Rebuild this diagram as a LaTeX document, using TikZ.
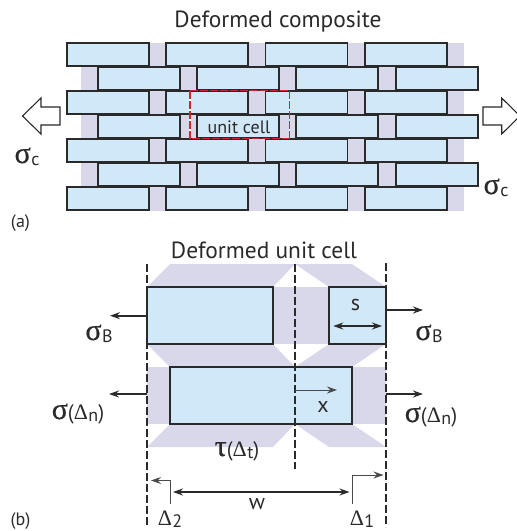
\documentclass[tikz,border=0pt]{standalone}
\usepackage{fontspec}
\setmainfont{PT Sans}
\newfontfamily\symf{Liberation Serif}
\newfontfamily\sigf[FakeBold=0.6]{Liberation Serif}
\usetikzlibrary{arrows.meta}
\definecolor{brickfill}{HTML}{D0E8F8}
\definecolor{lilac}{HTML}{D8D8EA}
\definecolor{ink}{HTML}{2B2A2B}
\definecolor{cellred}{HTML}{D2232F}
\newcommand{\sg}{{\sigf\fontsize{30}{30}\selectfont σ}}
\newcommand{\ta}{{\sigf\fontsize{30}{30}\selectfont τ}}
\newcommand{\Dl}{{\symf\fontsize{22}{22}\selectfont Δ}}
\newcommand{\subt}[1]{\kern.5pt\raisebox{-2pt}{\fontsize{18}{18}\selectfont #1}}
\newcommand{\pr}[1]{{\fontsize{21}{21}\selectfont #1}}
\tikzset{
  brick/.style={draw=ink,fill=brickfill,line width=1.7pt,inner sep=0pt,outer sep=0pt},
  label/.style={text=ink,inner sep=0pt,font=\fontsize{18}{18}\selectfont},
  letter/.style={text=ink,inner sep=0pt,font=\fontsize{22}{22}\selectfont},
  tag/.style={text=ink,inner sep=0pt,font=\fontsize{18}{18}\selectfont},
  title/.style={text=ink,inner sep=0pt,font=\fontsize{23.4}{24}\selectfont},
  sym/.style={text=ink,inner sep=0pt},
  dim/.style={draw=ink,line width=1.6pt,-{Stealth[length=10pt,width=7pt]}},
  dimboth/.style={draw=ink,line width=1.6pt,{Stealth[length=10pt,width=7pt]}-{Stealth[length=10pt,width=7pt]}},
  dimthin/.style={draw=ink!85,line width=1pt,-{Stealth[length=10pt,width=7pt]}},
  cut/.style={draw=ink,line width=1.5pt,dash pattern=on 8pt off 3pt},
  hollow/.style={draw=ink,fill=white,line width=1.1pt},
  celledge/.style={draw=cellred,line width=1.8pt,dash pattern=on 8pt off 2pt},
}
\begin{document}
\begin{tikzpicture}[x=1pt,y=-1pt]
\useasboundingbox (0,0) rectangle (517,531);
% (a) composite
\fill[lilac] (81,43) rectangle (464,211);
\foreach \n/\yc in {1/54.5,3/102.2,5/150.2,7/198.2}{
  \foreach \m/\xc in {a/108,b/207.3,c/306.4,d/406}{
    \node[brick,minimum width=82pt,minimum height=23pt] (r\n\m) at (\xc,\yc) {};
  }
}
\foreach \n/\yc in {2/78.5,4/126.5,6/174.5}{
  \foreach \m/\xc in {a/139,b/238,c/337,d/436.7}{
    \node[brick,minimum width=82pt,minimum height=23pt] (r\n\m) at (\xc,\yc) {};
  }
}
\node[minimum width=99.5pt,minimum height=48pt,inner sep=0pt,outer sep=0pt] (cell) at (239.8,114.5) {};
\draw[white,line width=1.7pt] (cell.north west) -- (cell.south west);
\draw[white,line width=1.7pt] (cell.north east) -- (cell.south east);
\draw[celledge] (cell.north west) -- (cell.north east);
\draw[celledge] (cell.north east) -- (cell.south east);
\draw[celledge] (cell.south east) -- (cell.south west);
\draw[celledge] (cell.south west) -- (cell.north west);
\node[label] (celltxt) at (239,127) {unit cell};
\node[title] (t1) at (278,22) {Deformed composite};
\draw[hollow] (60,107) -- (41,107) -- (41,98) -- (22.5,116) -- (41,134) -- (41,125) -- (60,125) -- cycle;
\draw[hollow] (483,107) -- (501.7,107) -- (501.7,98) -- (520,116) -- (501.7,134) -- (501.7,125) -- (483,125) -- cycle;
\node[sym,anchor=base] (sc1) at (27,163) {\sg\subt{c}};
\node[sym,anchor=base] (sc2) at (496,194) {\sg\subt{c}};
\node[tag] (la) at (20.5,223) {(a)};
% (b) unit cell
\node[title] (t2) at (264,250) {Deformed unit cell};
\fill[lilac] (147,287) -- (170,264) -- (295,264) -- (273,287) -- cycle;
\fill[lilac] (295,264) -- (352,264) -- (386,287) -- (329,287) -- cycle;
\fill[lilac] (273,287) rectangle (329,344);
\fill[lilac] (147,344) -- (273,344) -- (295,367) -- (170,367) -- cycle;
\fill[lilac] (295,367) -- (329,344) -- (386,344) -- (352,367) -- cycle;
\fill[lilac] (147,367) rectangle (170,424);
\fill[lilac] (352,367) rectangle (386,424);
\fill[lilac] (170,424) -- (295,424) -- (273,447) -- (147,447) -- cycle;
\fill[lilac] (295,424) -- (352,424) -- (386,447) -- (329,447) -- cycle;
\node[brick,minimum width=125.7pt,minimum height=57pt] (ba) at (209.85,315.8) {};
\node[brick,minimum width=56.7pt,minimum height=57pt] (bb) at (357.65,315.8) {};
\node[brick,minimum width=182.3pt,minimum height=57.3pt] (bc) at (261.15,395.3) {};
\coordinate (cl1) at (147,264); \coordinate (cl2) at (147,527);
\coordinate (cm1) at (295,264); \coordinate (cm2) at (295,469);
\coordinate (cr1) at (386,263); \coordinate (cr2) at (386,527);
\draw[cut] (cl1) -- (cl2);
\draw[cut] (cm1) -- (cm2);
\draw[cut] (cr1) -- (cr2);
\coordinate (a1s) at (147,315.7); \coordinate (a1e) at (110,315.7);
\coordinate (a2s) at (386,310); \coordinate (a2e) at (423,310);
\coordinate (a3s) at (147,394); \coordinate (a3e) at (109,394);
\coordinate (a4s) at (386,394); \coordinate (a4e) at (423,394);
\draw[dim] (a1s) -- (a1e);
\draw[dim] (a2s) -- (a2e);
\draw[dim] (a3s) -- (a3e);
\draw[dim] (a4s) -- (a4e);
\coordinate (ss) at (333.3,326); \coordinate (se) at (382,326);
\draw[dimboth] (ss) -- (se);
\coordinate (xs) at (295,390); \coordinate (xe) at (337,390);
\draw[dimthin] (xs) -- (xe);
\coordinate (ws) at (173,492); \coordinate (we) at (349.5,492);
\draw[dimboth] (ws) -- (we);
\coordinate (d2a) at (170,503.5); \coordinate (d2b) at (170,480.5); \coordinate (d2c) at (151,480.5);
\draw[dimthin] (d2a) -- (d2b) -- (d2c);
\coordinate (d1a) at (352,503.5); \coordinate (d1b) at (352,475); \coordinate (d1c) at (383.5,475);
\draw[dimthin] (d1a) -- (d1b) -- (d1c);
\node[sym,anchor=base] (sb1) at (99,340) {\sg\subt{B}};
\node[sym,anchor=base] (sb2) at (429,340) {\sg\subt{B}};
\node[sym,anchor=base] (sd1) at (78,419) {\sg\pr{(}\Dl\subt{n}\pr{)}};
\node[sym,anchor=base] (sd2) at (431,422) {\sg\pr{(}\Dl\subt{n}\pr{)}};
\node[sym,anchor=base] (tau) at (237,456) {\ta\pr{(}\Dl\subt{t}\pr{)}};
\node[letter] (ls) at (355.5,305) {s};
\node[letter] (lx) at (323,407) {x};
\node[letter] (lw) at (257,504) {w};
\node[sym,anchor=base] (d2) at (170,525) {\Dl\subt{2}};
\node[sym,anchor=base] (d1) at (362,525) {\Dl\subt{1}};
\node[tag,anchor=base] (lb) at (20.5,525) {(b)};
\end{tikzpicture}
\end{document}
